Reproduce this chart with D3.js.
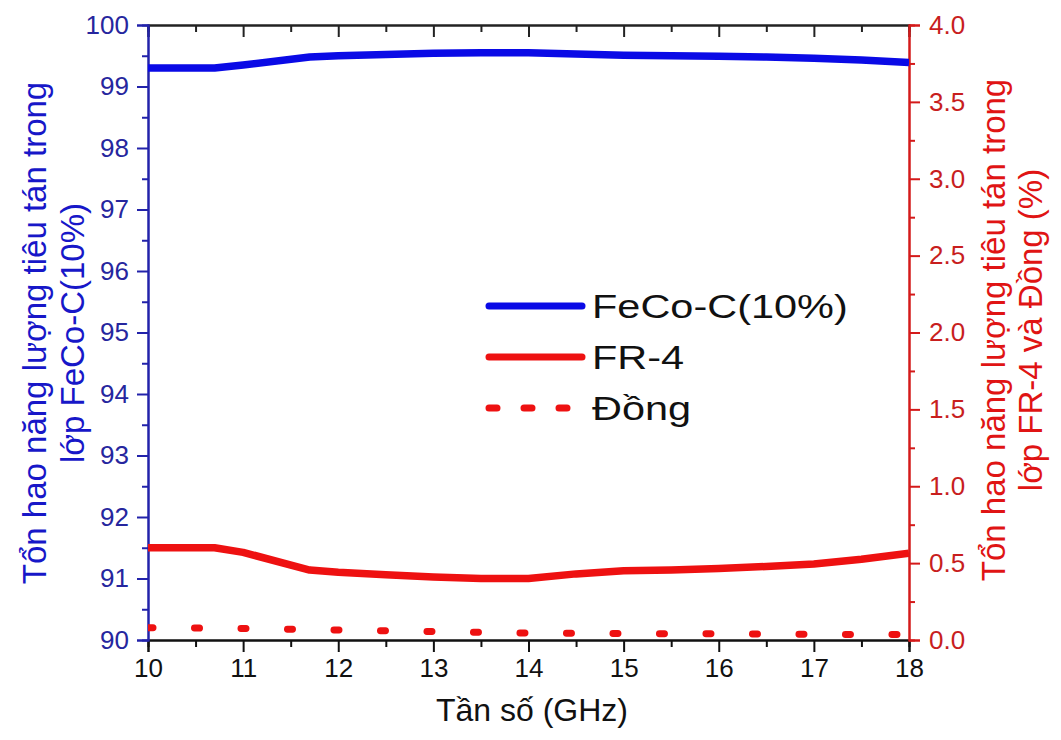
<!DOCTYPE html>
<html><head><meta charset="utf-8">
<script src="https://cdn.jsdelivr.net/npm/d3@7"></script>
<style>body{margin:0;background:#fff} svg{display:block}</style>
</head><body>
<svg id="c" width="1061" height="740"></svg>
<script>
// ---- data ----
const freq = [10, 10.7, 11, 11.7, 12, 12.5, 13, 13.5, 14, 14.5, 15, 15.5, 16, 16.5, 17, 17.5, 18];
const fecoLoss = [99.30, 99.30, 99.35, 99.48, 99.50, 99.52, 99.54, 99.55, 99.55, 99.53, 99.51, 99.50, 99.49, 99.48, 99.46, 99.43, 99.39];
const fr4Loss = [0.60, 0.60, 0.57, 0.455, 0.44, 0.425, 0.41, 0.40, 0.40, 0.43, 0.45, 0.455, 0.465, 0.478, 0.495, 0.525, 0.565];
const copperFreq = [10, 11, 12, 13, 14, 15, 16, 17, 18];
const copperLoss = [0.08, 0.075, 0.065, 0.055, 0.045, 0.042, 0.04, 0.037, 0.035];
const xTicks = [10, 11, 12, 13, 14, 15, 16, 17, 18];
const leftTicks = [90, 91, 92, 93, 94, 95, 96, 97, 98, 99, 100];
const rightTicks = [0, 0.5, 1, 1.5, 2, 2.5, 3, 3.5, 4];
const seriesNames = ["FeCo-C(10%)", "FR-4", "Đồng"];
const xTitle = "Tần số (GHz)";
const leftTitle = ["Tổn hao năng lượng tiêu tán trong", "lớp FeCo-C(10%)"];
const rightTitle = ["Tổn hao năng lượng tiêu tán trong", "lớp FR-4 và Đồng (%)"];

// ---- layout ----
const W = 1061, H = 740;
const m = {l: 148, r: 152, t: 25, b: 100};
const iw = W - m.l - m.r, ih = H - m.t - m.b;
const FONT = "'Liberation Sans', Arial, sans-serif";
const BLUE = "#0a0ae6", RED = "#ee1111";
const LAXIS = "#2222aa", LTXT = "#26269e", LTITLE = "#1717c8";
const RAXIS = "#d41a1a", RTXT = "#c81e1e", RTITLE = "#e01414";
const TICKFS = 26;

const svg = d3.select("#c");
const g = svg.append("g").attr("transform", `translate(${m.l},${m.t})`);

const x = d3.scaleLinear().domain([10, 18]).range([0, iw]);
const yL = d3.scaleLinear().domain([90, 100]).range([ih, 0]);
const yR = d3.scaleLinear().domain([0, 4]).range([ih, 0]);

const halves = (a, b, s) => d3.range(a, b + 1e-9, s);

function styleAxis(sel, color, txtColor) {
  sel.select(".domain").attr("stroke", color).attr("stroke-width", 2);
  sel.selectAll(".tick line").attr("stroke", color).attr("stroke-width", 2);
  sel.selectAll(".tick text").attr("fill", txtColor).attr("font-size", TICKFS).attr("font-family", FONT);
}

// bottom
const bMinor = g.append("g").attr("transform", `translate(0,${ih})`)
  .call(d3.axisBottom(x).tickValues(halves(10.5, 17.5, 1)).tickSize(7).tickFormat(""));
styleAxis(bMinor, "#111", "#111");
const bMajor = g.append("g").attr("transform", `translate(0,${ih})`)
  .call(d3.axisBottom(x).tickValues(xTicks).tickSize(12).tickPadding(7).tickFormat(d3.format("d")));
styleAxis(bMajor, "#111", "#111");

// top (inward ticks, no labels)
const tMinor = g.append("g").call(d3.axisBottom(x).tickValues(halves(10.5, 17.5, 1)).tickSize(7).tickFormat(""));
styleAxis(tMinor, "#222", "#222");
const tMajor = g.append("g").call(d3.axisBottom(x).tickValues(xTicks).tickSize(12).tickFormat(""));
styleAxis(tMajor, "#222", "#222");

// left
const lMinor = g.append("g").call(d3.axisLeft(yL).tickValues(halves(90.5, 99.5, 1)).tickSize(6).tickFormat(""));
styleAxis(lMinor, LAXIS, LTXT);
const lMajor = g.append("g").call(d3.axisLeft(yL).tickValues(leftTicks).tickSize(11).tickPadding(8).tickFormat(d3.format("d")));
styleAxis(lMajor, LAXIS, LTXT);

// right
const rMinor = g.append("g").attr("transform", `translate(${iw},0)`)
  .call(d3.axisRight(yR).tickValues(halves(0.25, 3.75, 0.5)).tickSize(6).tickFormat(""));
styleAxis(rMinor, RAXIS, RTXT);
const rMajor = g.append("g").attr("transform", `translate(${iw},0)`)
  .call(d3.axisRight(yR).tickValues(rightTicks).tickSize(11).tickPadding(9).tickFormat(d3.format(".1f")));
styleAxis(rMajor, RAXIS, RTXT);

// clip
svg.append("defs").append("clipPath").attr("id", "pc").append("rect")
  .attr("x", 0).attr("y", -5).attr("width", iw).attr("height", ih + 10);
const plot = g.append("g").attr("clip-path", "url(#pc)");

const lineL = d3.line().x((d, i) => x(freq[i])).y(d => yL(d));
const lineR = d3.line().x((d, i) => x(freq[i])).y(d => yR(d));
const lineC = d3.line().x((d, i) => x(copperFreq[i])).y(d => yR(d));

plot.append("path").datum(copperLoss).attr("d", lineC).attr("fill", "none")
  .attr("stroke", RED).attr("stroke-width", 7).attr("stroke-linecap", "round")
  .attr("stroke-dasharray", "5 41.5");
plot.append("path").datum(fr4Loss).attr("d", lineR).attr("fill", "none")
  .attr("stroke", RED).attr("stroke-width", 7.5).attr("stroke-linejoin", "round");
plot.append("path").datum(fecoLoss).attr("d", lineL).attr("fill", "none")
  .attr("stroke", BLUE).attr("stroke-width", 7.5).attr("stroke-linejoin", "round");

// legend
const leg = svg.append("g");
const legItems = [
  {name: seriesNames[0], color: BLUE, dash: null, y: 306},
  {name: seriesNames[1], color: RED, dash: null, y: 357},
  {name: seriesNames[2], color: RED, dash: "8 27", y: 408}
];
legItems.forEach(it => {
  leg.append("line").attr("x1", 489).attr("x2", 582).attr("y1", it.y).attr("y2", it.y)
    .attr("stroke", it.color).attr("stroke-width", 7).attr("stroke-linecap", "round")
    .attr("stroke-dasharray", it.dash);
  leg.append("text").attr("transform", `translate(592,${it.y + 12}) scale(1.22,1)`)
    .attr("font-family", FONT).attr("font-size", 34).attr("fill", "#111").text(it.name);
});

// axis titles
svg.append("text").attr("x", 532).attr("y", 721).attr("text-anchor", "middle")
  .attr("font-family", FONT).attr("font-size", 32).attr("fill", "#111").text(xTitle);

const lt = svg.append("text").attr("transform", "translate(0,333) rotate(-90)")
  .attr("text-anchor", "middle").attr("font-family", FONT).attr("font-size", 33).attr("fill", LTITLE);
lt.append("tspan").attr("x", 0).attr("y", 46).text(leftTitle[0]);
lt.append("tspan").attr("x", 0).attr("y", 84).text(leftTitle[1]);

const rt = svg.append("text").attr("transform", "translate(0,330) rotate(-90)")
  .attr("text-anchor", "middle").attr("font-family", FONT).attr("font-size", 33).attr("fill", RTITLE);
rt.append("tspan").attr("x", 0).attr("y", 1005).text(rightTitle[0]);
rt.append("tspan").attr("x", 0).attr("y", 1042).text(rightTitle[1]);
</script>
</body></html>
